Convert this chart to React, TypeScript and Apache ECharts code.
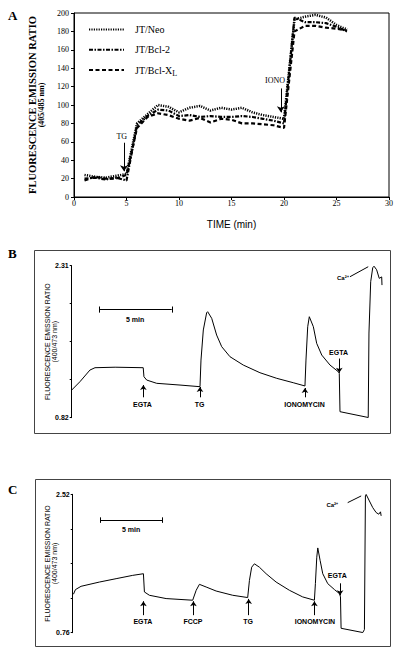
import React, { useEffect, useRef } from "react";
import * as echarts from "echarts";

// ---------- Panel A data ----------
const timeA = [1, 2, 3, 4, 5, 6, 7, 8, 9, 10, 11, 12, 13, 14, 15, 16, 17, 18, 19, 20, 21, 22, 23, 24, 25, 26];
const neo = [24, 22, 21, 23, 25, 80, 90, 100, 98, 92, 97, 99, 94, 97, 95, 97, 92, 89, 87, 85, 193, 196, 198, 195, 187, 182];
const bcl2 = [20, 21, 19, 21, 18, 78, 88, 95, 94, 88, 89, 87, 88, 87, 87, 88, 87, 85, 83, 80, 195, 190, 190, 189, 185, 180];
const bclxl = [18, 22, 20, 20, 24, 75, 87, 91, 89, 85, 83, 86, 81, 85, 84, 80, 80, 79, 78, 75, 180, 186, 186, 184, 183, 181];
const seriesNamesA = ["JT/Neo", "JT/Bcl-2", "JT/Bcl-XL"];

// ---------- Panel B trace (minutes, ratio) ----------
const timeB = [0, 0.57, 1.26, 1.61, 3.0, 4.94, 4.99, 5.18, 5.87, 7.48, 8.86, 8.93, 9.09, 9.32, 9.39, 9.67, 10.01, 10.36, 10.93, 11.85, 13.0, 14.16, 15.3, 16.11, 16.18, 16.3, 16.41, 16.69, 16.92, 17.27, 17.84, 18.41, 18.48, 18.53, 20.48, 20.53, 20.65, 20.79, 20.88, 21.06, 21.24, 21.41, 21.43];
const ratioB = [1.091, 1.173, 1.287, 1.31, 1.315, 1.31, 1.222, 1.189, 1.157, 1.14, 1.124, 1.385, 1.68, 1.849, 1.859, 1.794, 1.63, 1.516, 1.418, 1.336, 1.261, 1.206, 1.163, 1.131, 1.385, 1.712, 1.81, 1.712, 1.549, 1.434, 1.336, 1.271, 1.255, 0.879, 0.822, 1.65, 2.153, 2.29, 2.305, 2.27, 2.186, 2.2, 2.12];

// ---------- Panel C trace (minutes, ratio) ----------
const timeC = [0.06, 0.22, 0.67, 2.14, 3.48, 4.81, 5.67, 5.75, 6.15, 7.49, 9.62, 9.9, 10.16, 10.7, 11.5, 12.83, 14.03, 14.17, 14.35, 14.57, 14.97, 15.51, 16.31, 17.38, 18.44, 19.38, 19.46, 19.57, 19.65, 19.84, 20.05, 20.45, 20.99, 21.39, 21.47, 21.52, 23.26, 23.39, 23.47, 23.53, 23.79, 24.06, 24.33, 24.54, 24.68, 24.73];
const ratioC = [1.249, 1.308, 1.35, 1.404, 1.447, 1.489, 1.51, 1.278, 1.236, 1.194, 1.173, 1.299, 1.375, 1.341, 1.29, 1.236, 1.207, 1.425, 1.593, 1.636, 1.593, 1.51, 1.404, 1.299, 1.215, 1.173, 1.384, 1.72, 1.838, 1.678, 1.51, 1.384, 1.308, 1.257, 1.215, 0.816, 0.762, 0.8, 2.5, 2.518, 2.435, 2.35, 2.288, 2.267, 2.297, 2.246];

// axis ranges / ticks
const yTicksB = [0.82, 2.31];
const yTicksC = [0.76, 2.52];

const SERIF = "Liberation Serif, DejaVu Serif, serif";
const SANS = "Liberation Sans Narrow, Liberation Sans, Arial, sans-serif";
const INK = "#000000";

function pairs(xs: number[], ys: number[]) {
  return xs.map((x, i) => [x, ys[i]]);
}

function arrow(x: number, y1: number, y2: number) {
  return [
    { coord: [x, y1], symbol: "none" },
    { coord: [x, y2], symbol: "arrow" },
  ];
}
function seg(x1: number, y1: number, x2: number, y2: number) {
  return [
    { coord: [x1, y1], symbol: "none" },
    { coord: [x2, y2], symbol: "none" },
  ];
}
function txt(name: string, x: number, y: number, extra: any = {}) {
  return {
    name,
    coord: [x, y],
    symbol: "rect",
    symbolSize: 1,
    itemStyle: { color: "rgba(0,0,0,0)" },
    label: { show: true, position: [0, 0], align: "center", verticalAlign: "middle", formatter: name, ...extra },
  };
}

export default function App() {
  const ref = useRef<HTMLDivElement>(null);
  useEffect(() => {
    if (!ref.current) return;
    const chart = echarts.init(ref.current, null, { renderer: "svg" });
    const smallLbl = { fontFamily: SANS, fontSize: 7, fontWeight: "bold", color: INK };
    const rfmt = (ticks: number[]) => (v: number) => {
      for (const t of ticks) if (Math.abs(v - t) < 1e-3) return t.toFixed(2);
      return "";
    };
    const sansName = {
      align: "center",
      rich: {
        a: { fontFamily: SANS, fontSize: 7, color: INK, lineHeight: 7, align: "center" },
        b: { fontFamily: SANS, fontSize: 7, color: INK, lineHeight: 7, align: "center" },
      },
    };
    const option: any = {
      animation: false,
      backgroundColor: "#fff",
      textStyle: { fontFamily: SERIF, color: INK },
      grid: [
        { left: 74, top: 13, width: 315, height: 184, show: true, borderColor: INK, borderWidth: 1 },
        { left: 71.7, top: 265.7, width: 311.3, height: 152 },
        { left: 72.7, top: 494.3, width: 309.3, height: 138.4 },
      ],
      legend: {
        orient: "vertical",
        left: 83,
        top: 19,
        itemWidth: 35,
        itemHeight: 14,
        itemGap: 9,
        data: seriesNamesA,
        itemStyle: { color: "rgba(0,0,0,0)", borderWidth: 0, opacity: 0 },
        textStyle: {
          fontFamily: SERIF,
          fontSize: 10,
          color: INK,
          padding: [0, 0, 0, 6],
          rich: { sub: { fontFamily: SERIF, fontSize: 8, verticalAlign: "bottom", padding: [6, 0, 0, 0], color: INK } },
        },
        formatter: (n: string) => (n === "JT/Bcl-XL" ? "JT/Bcl-X{sub|L}" : n),
      },
      xAxis: [
        {
          gridIndex: 0,
          type: "value",
          min: 0,
          max: 30,
          interval: 5,
          name: "TIME (min)",
          nameLocation: "middle",
          nameGap: 22,
          nameMoveOverlap: false,
          nameTextStyle: { fontFamily: "Liberation Sans, Arial, sans-serif", fontSize: 10, color: INK },
          axisLine: { show: true, lineStyle: { color: INK } },
          axisTick: { show: true, length: 3, lineStyle: { color: INK } },
          axisLabel: { fontFamily: SERIF, fontSize: 8, color: INK, margin: 2 },
          splitLine: { show: false },
        },
        { gridIndex: 1, type: "value", min: 0, max: 21.5, show: false, splitLine: { show: false } },
        { gridIndex: 2, type: "value", min: 0, max: 24.8, show: false, splitLine: { show: false } },
      ],
      yAxis: [
        {
          gridIndex: 0,
          type: "value",
          min: 0,
          max: 200,
          interval: 20,
          name: "{a|FLUORESCENCE EMISSION RATIO}\n{b|(405/485 nm)}",
          nameLocation: "middle",
          nameGap: 28,
          nameRotate: 90,
          nameMoveOverlap: false,
          nameTextStyle: {
            align: "center",
            rich: {
              a: { fontFamily: SERIF, fontSize: 10.5, fontWeight: "bold", color: INK, lineHeight: 10, align: "center" },
              b: { fontFamily: SERIF, fontSize: 8, fontWeight: "bold", color: INK, lineHeight: 9, align: "center" },
            },
          },
          axisLine: { show: true, lineStyle: { color: INK } },
          axisTick: { show: true, length: 3, lineStyle: { color: INK } },
          axisLabel: { fontFamily: SERIF, fontSize: 8, color: INK, margin: 5 },
          splitLine: { show: false },
        },
        {
          gridIndex: 1,
          type: "value",
          min: 0.82,
          max: 2.31,
          interval: 0.3725,
          name: "{a|FLUORESCENCE EMISSION RATIO}\n{b|(400/473 nm)}",
          nameLocation: "middle",
          nameGap: 14,
          nameRotate: 90,
          nameMoveOverlap: false,
          nameTextStyle: sansName,
          axisLine: { show: true, lineStyle: { color: INK } },
          axisTick: { show: true, length: 2, lineStyle: { color: INK } },
          axisLabel: { ...smallLbl, margin: 3, showMinLabel: true, showMaxLabel: true, formatter: rfmt(yTicksB) },
          splitLine: { show: false },
        },
        {
          gridIndex: 2,
          type: "value",
          min: 0.76,
          max: 2.52,
          interval: 0.44,
          name: "{a|FLUORESCENCE EMISSION RATIO}\n{b|(400/473 nm)}",
          nameLocation: "middle",
          nameGap: 15,
          nameRotate: 90,
          nameMoveOverlap: false,
          nameTextStyle: sansName,
          axisLine: { show: true, lineStyle: { color: INK } },
          axisTick: { show: true, length: 2, lineStyle: { color: INK } },
          axisLabel: { ...smallLbl, margin: 3, showMinLabel: true, showMaxLabel: true, formatter: rfmt(yTicksC) },
          splitLine: { show: false },
        },
      ],
      series: [
        {
          name: "JT/Neo",
          type: "line",
          xAxisIndex: 0,
          yAxisIndex: 0,
          symbol: "none",
          data: pairs(timeA, neo),
          lineStyle: { color: INK, width: 2.5, type: [1.2, 1.2] },
          itemStyle: { color: INK },
          markLine: {
            silent: true,
            symbolSize: 6,
            label: { show: false },
            lineStyle: { color: INK, width: 1, type: "solid" },
            data: [arrow(4.76, 59, 28), arrow(19.7, 118, 92)],
          },
          markPoint: {
            silent: true,
            data: [
              txt("TG", 4.6, 65.5, { fontFamily: SERIF, fontSize: 8, color: INK }),
              txt("IONO", 19.2, 126.5, { fontFamily: SERIF, fontSize: 8, color: INK }),
            ],
          },
        },
        {
          name: "JT/Bcl-2",
          type: "line",
          xAxisIndex: 0,
          yAxisIndex: 0,
          symbol: "none",
          data: pairs(timeA, bcl2),
          lineStyle: { color: INK, width: 2.2, type: [4, 1.5, 1.5, 1.5] },
          itemStyle: { color: INK },
        },
        {
          name: "JT/Bcl-XL",
          type: "line",
          xAxisIndex: 0,
          yAxisIndex: 0,
          symbol: "none",
          data: pairs(timeA, bclxl),
          lineStyle: { color: INK, width: 2.2, type: [4, 2.5] },
          itemStyle: { color: INK },
        },
        {
          name: "B",
          type: "line",
          xAxisIndex: 1,
          yAxisIndex: 1,
          symbol: "none",
          clip: false,
          data: pairs(timeB, ratioB),
          lineStyle: { color: INK, width: 1 },
          markLine: {
            silent: true,
            symbolSize: 5,
            label: { show: false },
            lineStyle: { color: INK, width: 1, type: "solid" },
            data: [
              arrow(4.95, 1.02, 1.14),
              arrow(8.86, 1.02, 1.121),
              arrow(16.11, 1.02, 1.111),
              arrow(18.48, 1.40, 1.26),
              seg(19.22, 2.202, 20.48, 2.30),
              seg(1.91, 1.882, 6.91, 1.882),
              seg(1.91, 1.85, 1.91, 1.91),
              seg(6.91, 1.85, 6.91, 1.91),
            ],
          },
          markPoint: {
            silent: true,
            data: [
              txt("EGTA", 4.92, 0.944, smallLbl),
              txt("TG", 8.86, 0.944, smallLbl),
              txt("IONOMYCIN", 16.11, 0.944, smallLbl),
              txt("EGTA", 18.46, 1.451, smallLbl),
              txt("Ca²⁺", 18.76, 2.186, { ...smallLbl, fontSize: 6 }),
              txt("5 min", 4.41, 1.777, smallLbl),
            ],
          },
        },
        {
          name: "C",
          type: "line",
          xAxisIndex: 2,
          yAxisIndex: 2,
          symbol: "none",
          clip: false,
          data: pairs(timeC, ratioC),
          lineStyle: { color: INK, width: 1 },
          markLine: {
            silent: true,
            symbolSize: 5,
            label: { show: false },
            lineStyle: { color: INK, width: 1, type: "solid" },
            data: [
              arrow(5.67, 0.983, 1.16),
              arrow(9.68, 0.983, 1.16),
              arrow(14.11, 0.983, 1.19),
              arrow(19.38, 0.983, 1.16),
              arrow(21.44, 1.388, 1.236),
              seg(22.05, 2.414, 23.13, 2.499),
              seg(2.22, 2.192, 7.22, 2.192),
              seg(2.22, 2.157, 2.22, 2.227),
              seg(7.22, 2.157, 7.22, 2.227),
            ],
          },
          markPoint: {
            silent: true,
            data: [
              txt("EGTA", 5.67, 0.899, smallLbl),
              txt("FCCP", 9.68, 0.899, smallLbl),
              txt("TG", 14.11, 0.899, smallLbl),
              txt("IONOMYCIN", 19.46, 0.899, smallLbl),
              txt("EGTA", 21.25, 1.476, smallLbl),
              txt("Ca²⁺", 20.85, 2.381, { ...smallLbl, fontSize: 6 }),
              txt("5 min", 4.72, 2.066, smallLbl),
            ],
          },
        },
      ],
      graphic: [
        { type: "text", left: 8, top: 9, style: { text: "A", font: "bold 13px " + SERIF, fill: INK } },
        { type: "text", left: 8, top: 247, style: { text: "B", font: "bold 13px " + SERIF, fill: INK } },
        { type: "text", left: 8, top: 483, style: { text: "C", font: "bold 13px " + SERIF, fill: INK } },
        { type: "rect", shape: { x: 34.5, y: 250.5, width: 356, height: 183 }, style: { fill: "none", stroke: "#444", lineWidth: 1 } },
        { type: "rect", shape: { x: 35.5, y: 479.5, width: 355, height: 167 }, style: { fill: "none", stroke: "#444", lineWidth: 1 } },
      ],
    };
    chart.setOption(option);
    return () => chart.dispose();
  }, []);
  return <div ref={ref} style={{ position: "fixed", left: 0, top: 0, width: 400, height: 657, background: "#fff" }} />;
}
